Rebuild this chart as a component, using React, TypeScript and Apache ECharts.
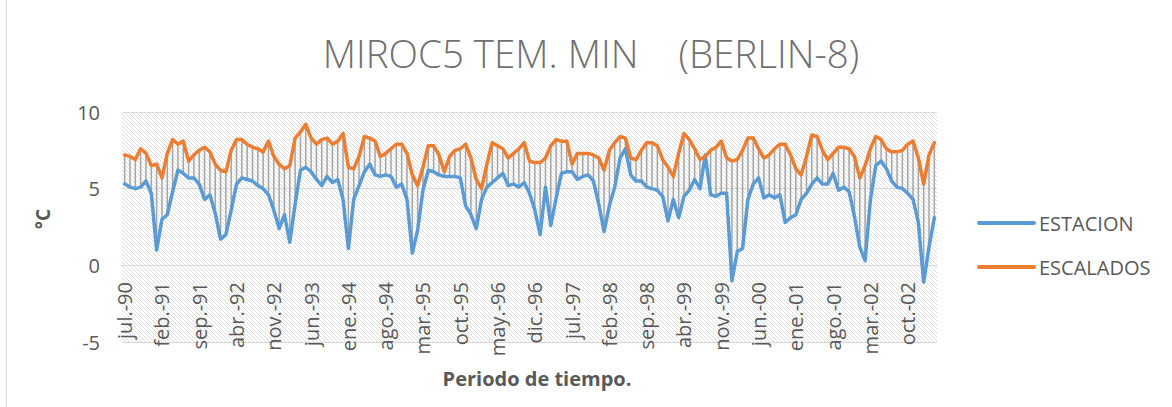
import React, { useEffect, useRef } from "react";
import * as echarts from "echarts";

const MONTHS = ["ene.", "feb.", "mar.", "abr.", "may.", "jun.", "jul.", "ago.", "sep.", "oct.", "nov.", "dic."];
const START_YEAR = 1990;
const START_MONTH = 6; // jul.
const N_MONTHS = 153;

const categories: string[] = [];
for (let k = 0; k < N_MONTHS; k++) {
  const m = (START_MONTH + k) % 12;
  const y = START_YEAR + Math.floor((START_MONTH + k) / 12);
  categories.push(MONTHS[m] + "-" + String(y % 100).padStart(2, "0"));
}

const estacion = [
  5.3, 5.1, 5.0, 5.1, 5.5, 4.7, 1.0, 3.0, 3.3, 4.8, 6.2, 6.0,
  5.7, 5.7, 5.3, 4.3, 4.6, 3.4, 1.7, 2.0, 3.6, 5.3, 5.7, 5.6,
  5.5, 5.2, 5.0, 4.6, 3.6, 2.4, 3.3, 1.5, 4.0, 6.2, 6.4, 6.1,
  5.6, 5.2, 5.8, 5.4, 5.6, 4.3, 1.1, 4.3, 5.2, 6.1, 6.6, 5.9,
  5.8, 5.9, 5.8, 5.1, 5.3, 4.3, 0.8, 2.3, 4.9, 6.2, 6.1, 5.9,
  5.8, 5.8, 5.8, 5.7, 3.9, 3.3, 2.4, 4.3, 5.1, 5.4, 5.7, 6.0,
  5.2, 5.3, 5.1, 5.4, 4.7, 3.6, 2.0, 5.1, 2.6, 4.4, 6.0, 6.1,
  6.1, 5.6, 5.8, 5.9, 5.5, 4.0, 2.2, 3.9, 5.1, 7.0, 7.6, 5.9,
  5.5, 5.5, 5.1, 5.0, 4.9, 4.5, 2.9, 4.3, 3.1, 4.5, 4.9, 5.6,
  5.0, 7.2, 4.6, 4.5, 4.7, 4.7, -1.0, 0.9, 1.1, 4.3, 5.3, 5.7,
  4.4, 4.6, 4.4, 4.6, 2.8, 3.1, 3.3, 4.3, 4.7, 5.3, 5.7, 5.3,
  5.3, 6.0, 4.9, 5.1, 4.8, 3.2, 1.2, 0.3, 4.3, 6.5, 6.8, 6.3,
  5.5, 5.1, 5.0, 4.7, 4.3, 2.8, -1.1, 1.2, 3.1,
];

const escalados = [
  7.2, 7.1, 6.9, 7.6, 7.3, 6.5, 6.6, 5.7, 7.3, 8.2, 7.9, 8.1,
  6.8, 7.2, 7.5, 7.7, 7.4, 6.6, 6.2, 6.1, 7.5, 8.2, 8.2, 7.9,
  7.7, 7.6, 7.4, 8.1, 7.1, 6.6, 6.3, 6.5, 8.3, 8.7, 9.2, 8.3,
  7.9, 8.2, 8.3, 7.9, 8.1, 8.6, 6.4, 6.3, 7.1, 8.4, 8.3, 8.1,
  7.1, 7.3, 7.6, 7.9, 7.9, 7.3, 5.9, 5.2, 6.4, 7.8, 7.8, 7.2,
  6.1, 7.1, 7.5, 7.6, 7.9, 7.0, 5.6, 5.0, 6.6, 8.0, 7.8, 7.6,
  7.0, 7.3, 7.6, 8.0, 6.8, 6.7, 6.7, 7.0, 7.8, 8.2, 8.1, 8.1,
  6.6, 7.3, 7.3, 7.3, 7.2, 7.0, 6.2, 7.5, 8.0, 8.4, 8.3, 7.0,
  6.9, 7.5, 8.0, 8.0, 7.8, 6.9, 6.4, 5.8, 7.3, 8.6, 8.2, 7.6,
  6.9, 7.1, 7.5, 7.7, 8.1, 7.0, 6.8, 6.9, 7.5, 8.3, 8.3, 7.6,
  7.0, 7.2, 7.6, 7.9, 7.9, 7.2, 6.3, 5.9, 7.1, 8.5, 8.4, 7.5,
  6.9, 7.3, 7.7, 7.7, 7.6, 7.1, 5.7, 6.5, 7.6, 8.4, 8.2, 7.6,
  7.4, 7.4, 7.5, 7.9, 8.1, 7.0, 5.3, 7.2, 8.0,
];

const Y_TICKS = { min: -5, max: 10, interval: 5 };
const TITLE = "MIROC5 TEM. MIN\u00A0\u00A0\u00A0\u00A0(BERLIN-8)";
const Y_NAME = "°C";
const X_NAME = "Periodo de tiempo.";
const SERIES_NAMES = ["ESTACION", "ESCALADOS"];

function makeHatch(): HTMLCanvasElement {
  const s = 4;
  const c = document.createElement("canvas");
  c.width = s;
  c.height = s;
  const ctx = c.getContext("2d")!;
  ctx.fillStyle = "#ffffff";
  ctx.fillRect(0, 0, s, s);
  ctx.strokeStyle = "#dedede";
  ctx.lineWidth = 1;
  ctx.beginPath();
  ctx.moveTo(-1, -1);
  ctx.lineTo(s + 1, s + 1);
  ctx.moveTo(s - 1, -1);
  ctx.lineTo(s + 1, 1);
  ctx.moveTo(-1, s - 1);
  ctx.lineTo(1, s + 1);
  ctx.stroke();
  return c;
}

export default function App() {
  const ref = useRef<HTMLDivElement>(null);
  useEffect(() => {
    if (!ref.current) return;
    const chart = echarts.init(ref.current, undefined, { renderer: "svg" });
    const hilo = estacion.map((v, i) => [i, Math.min(v, escalados[i]), Math.max(v, escalados[i])]);
    const font = '"Open Sans", "Noto Sans", sans-serif';
    chart.setOption({
      animation: false,
      backgroundColor: "#ffffff",
      textStyle: { fontFamily: font },
      grid: {
        left: 122,
        right: 235,
        top: 112,
        bottom: 65,
        show: true,
        borderWidth: 0,
        backgroundColor: { image: makeHatch(), repeat: "repeat" },
        outerBoundsMode: "none",
      },
      legend: {
        orient: "vertical",
        left: 977,
        top: 213,
        padding: 0,
        itemWidth: 55,
        itemHeight: 14,
        itemGap: 24,
        data: SERIES_NAMES,
        itemStyle: { opacity: 0 },
        lineStyle: { width: 4, cap: "round" },
        textStyle: { fontSize: 20, color: "#595959", fontFamily: font },
      },
      xAxis: {
        type: "category",
        data: categories,
        boundaryGap: true,
        axisLine: { onZero: true, lineStyle: { color: "#d9d9d9", width: 1 } },
        axisTick: { show: false },
        splitLine: { show: false },
        axisLabel: {
          interval: 6,
          rotate: 90,
          margin: -60,
          fontSize: 20,
          color: "#595959",
          fontFamily: font,
        },
      },
      yAxis: {
        type: "value",
        min: Y_TICKS.min,
        max: Y_TICKS.max,
        interval: Y_TICKS.interval,
        axisLine: { show: false },
        axisTick: { show: false },
        axisLabel: { fontSize: 20, color: "#595959", margin: 22, fontFamily: font },
        splitLine: { lineStyle: { color: "#d9d9d9", width: 1 } },
      },
      series: [
        {
          type: "custom",
          name: "hilo",
          data: hilo,
          encode: { x: 0, y: [1, 2] },
          silent: true,
          z: 1,
          renderItem: (params: any, api: any) => {
            const i = api.value(0);
            const a = api.coord([i, api.value(1)]);
            const b = api.coord([i, api.value(2)]);
            return {
              type: "line",
              shape: { x1: a[0], y1: a[1], x2: b[0], y2: b[1] },
              style: { stroke: "#a5a5a5", lineWidth: 1.5 },
            };
          },
        },
        {
          type: "line",
          name: SERIES_NAMES[0],
          data: estacion,
          symbol: "none",
          z: 3,
          lineStyle: { color: "#5b9bd5", width: 3.5, join: "round", cap: "round" },
          itemStyle: { color: "#5b9bd5" },
        },
        {
          type: "line",
          name: SERIES_NAMES[1],
          data: escalados,
          symbol: "none",
          z: 4,
          lineStyle: { color: "#ed7d31", width: 3.5, join: "round", cap: "round" },
          itemStyle: { color: "#ed7d31" },
        },
      ],
      graphic: [
        {
          type: "line",
          shape: { x1: 6.5, y1: 0, x2: 6.5, y2: 407 },
          style: { stroke: "#d9d9d9", lineWidth: 1 },
          silent: true,
        },
        {
          type: "text",
          x: 591,
          y: 53,
          style: {
            text: TITLE,
            font: '300 38.5px "Open Sans", sans-serif',
            fill: "#707070",
            align: "center",
            verticalAlign: "middle",
            textAlign: "center",
            textVerticalAlign: "middle",
          },
        },
        {
          type: "text",
          x: 43,
          y: 219,
          rotation: Math.PI / 2,
          style: {
            text: Y_NAME,
            font: 'bold 19px "Open Sans", sans-serif',
            fill: "#595959",
            align: "center",
            verticalAlign: "middle",
            textAlign: "center",
            textVerticalAlign: "middle",
          },
        },
        {
          type: "text",
          x: 537,
          y: 378,
          style: {
            text: X_NAME,
            font: 'bold 20px "Open Sans", sans-serif',
            fill: "#595959",
            align: "center",
            verticalAlign: "middle",
            textAlign: "center",
            textVerticalAlign: "middle",
          },
        },
      ],
    });
    return () => chart.dispose();
  }, []);
  return (
    <div
      ref={ref}
      style={{ position: "absolute", left: 0, top: 0, width: 1172, height: 407 }}
    />
  );
}
